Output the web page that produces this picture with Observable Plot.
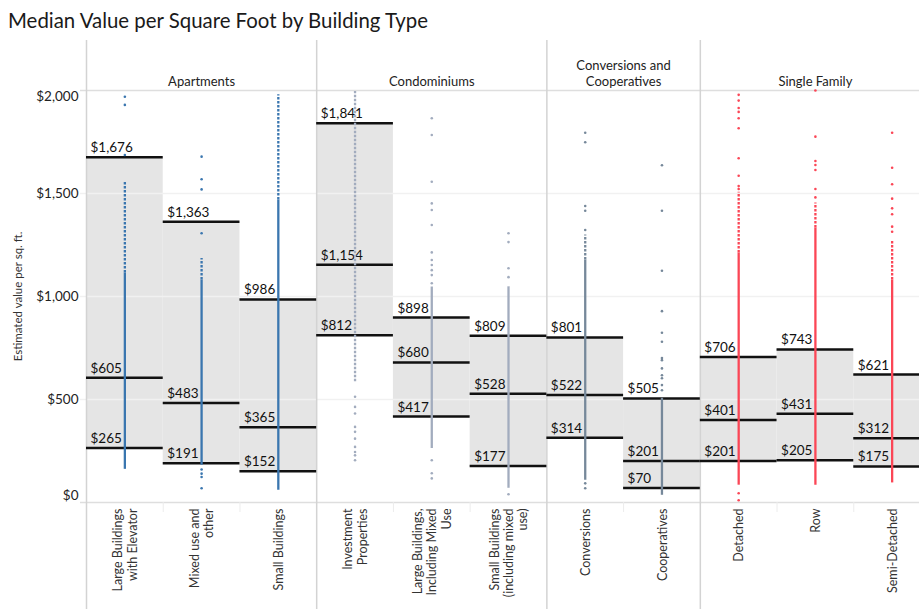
<!DOCTYPE html>
<html><head><meta charset="utf-8">
<script src="https://cdn.jsdelivr.net/npm/d3@7"></script>
<script src="https://cdn.jsdelivr.net/npm/@observablehq/plot@0.6"></script>
<style>
html,body{margin:0;padding:0;background:#fff;overflow:hidden;width:919px;height:609px}
#title{height:40px;box-sizing:border-box;padding:10px 0 0 8px;font:20.4px/20px Lato,sans-serif;color:#1a1a1a;white-space:nowrap}
#chart{width:930px}
#chart svg{display:block;overflow:visible;max-width:none !important;width:930px !important;height:569px !important}
</style></head><body>
<div id="title">Median Value per Square Foot by Building Type</div>
<div id="chart"></div>
<script>
// ---- data ----
const categories = [
  "Large Buildings\nwith Elevator", "Mixed use and\nother", "Small Buildings",
  "Investment\nProperties", "Large Buildings,\nIncluding Mixed\nUse", "Small Buildings\n(including mixed\nuse)",
  "Conversions", "Cooperatives",
  "Detached", "Row", "Semi-Detached"
];
const groups = [
  "Apartments", "Apartments", "Apartments",
  "Condominiums", "Condominiums", "Condominiums",
  "Conversions and\nCooperatives", "Conversions and\nCooperatives",
  "Single Family", "Single Family", "Single Family"
];
const groupNames = ["Apartments", "Condominiums", "Conversions and\nCooperatives", "Single Family"];
const lowValues    = [265, 191, 152, 812, 417, 177, 314, 70, 201, 205, 175];
const medianValues = [605, 483, 365, 1154, 680, 528, 522, 201, 401, 431, 312];
const highValues   = [1676, 1363, 986, 1841, 898, 809, 801, 505, 706, 743, 621];
// dense part of each strip of individual values
const solidLo = [161, 181, 59, null, 262, 69, 108, 35, 84, 84, 95];
const solidHi = [1114, 1080, 1468, null, 1046, 1047, 1177, 506, 1211, 1332, 1080];
// semi-dense (dotted) part
const dashLo = [1114, 1080, 1468, 586, null, null, 1177, null, 1211, 1332, 1080];
const dashHi = [1561, 1185, 1979, 1995, null, null, 1298, null, 1506, 1454, 1274];
// sparse individual values
const outliers = [
  [1970, 1930, 1687],
  [1679, 1569, 1520, 1307, 160, 140, 124, 69],
  [],
  [513, 464, 432, 367, 343, 310, 270, 245, 229, 205],
  [1865, 1784, 1557, 1452, 1420, 1347, 1214, 1177, 1153, 1128, 1104, 1064, 205, 142, 117],
  [1307, 1264, 1137, 1094, 40],
  [1795, 1749, 1439, 1416, 1323, 93, 69],
  [1637, 1416, 1125, 929, 824, 780, 701, 691, 651, 618, 603, 570, 545],
  [1979, 1951, 1915, 1896, 1865, 1817, 1671, 1586, 1536, 1522, 45, 11],
  [2000, 1776, 1658, 1638, 1614, 1522, 1481],
  [1795, 1625, 1545, 1475, 1428, 1399, 1339, 1314]
];
const groupColors = ["#3a76af", "#a2acbe", "#76889a", "#fb4656"];
const yTicks = [0, 500, 1000, 1500, 2000];
const yTitle = "Estimated value per sq. ft.";

// ---- derived tables ----
const fmt = d3.format("$,");
const colorOf = i => groupColors[groupNames.indexOf(groups[i])];
const rows = categories.map((c, i) => ({i, c, low: lowValues[i], med: medianValues[i], high: highValues[i],
  sLo: solidLo[i], sHi: solidHi[i], dLo: dashLo[i], dHi: dashHi[i], color: colorOf(i)}));
const lineRows = rows.flatMap(r => [r.low, r.med, r.high].map(v => ({i: r.i, v})));
const dotRows = rows.flatMap(r => outliers[r.i].map(v => ({i: r.i, v, color: r.color})));
const facets = groupNames.map(g => {
  const idx = groups.map((x, i) => x === g ? i : -1).filter(i => i >= 0);
  return {name: g, start: idx[0], count: idx.length};
});
const boundaries = facets.map(f => f.start);
const inner = categories.map((c, i) => i).filter(i => !boundaries.includes(i));

const font = "Lato, sans-serif";
const chart = Plot.plot({
  width: 930, height: 569,
  marginLeft: 86, marginRight: 0, marginTop: 50, marginBottom: 107,
  style: {fontFamily: font, color: "#222", background: "white", maxWidth: "none"},
  x: {type: "linear", domain: [0, categories.length], axis: null},
  y: {domain: [0, 2000], axis: null},
  marks: [
    Plot.rectY(rows, {x1: d => d.i, x2: d => d.i + 1, y1: "low", y2: "high", fill: "#e5e5e5"}),
    Plot.ruleY([500, 1000, 1500], {stroke: "#f1f1f1", strokeWidth: 1.5, insetLeft: -6}),
    Plot.ruleY([0, 2000], {stroke: "#dedede", strokeWidth: 1.5, insetLeft: -6}),
    Plot.ruleX(inner, {x: d => d, stroke: "#ececec", strokeWidth: 1, insetTop: 412, insetBottom: -10}),
    Plot.ruleX(boundaries, {x: d => d, stroke: "#d3d3d3", strokeWidth: 1.5, insetTop: -50, insetBottom: -107}),
    Plot.ruleY(lineRows, {y: "v", x1: d => d.i, x2: d => d.i + 1, stroke: "#111", strokeWidth: 2.5}),
    Plot.text(lineRows, {x: d => d.i, y: "v", text: d => fmt(d.v), textAnchor: "start", lineAnchor: "bottom",
      dx: 4, dy: -5, fontSize: 13.5, fill: "#111"}),
    Plot.ruleX(rows.filter(r => r.sLo != null), {x: d => d.i + 0.5, y1: "sLo", y2: "sHi", stroke: "color", strokeWidth: 2.3}),
    Plot.ruleX(rows.filter(r => r.dLo != null), {x: d => d.i + 0.5, y1: "dLo", y2: "dHi", stroke: "color", strokeWidth: 2.3, strokeDasharray: "2.5,1.5"}),
    Plot.dot(dotRows, {x: d => d.i + 0.5, y: "v", r: 1.3, fill: "color", stroke: null}),
    // y tick labels
    Plot.text(yTicks.filter(t => t > 0 && t < 2000), {y: d => d, frameAnchor: "left", dx: -8, textAnchor: "end", text: d => fmt(d), fontSize: 13.5, fill: "#222"}),
    Plot.text(yTicks.filter(t => t === 0), {y: d => d, frameAnchor: "left", dx: -8, dy: -7, textAnchor: "end", text: d => fmt(d), fontSize: 13.5, fill: "#222"}),
    Plot.text(yTicks.filter(t => t === 2000), {y: d => d, frameAnchor: "left", dx: -8, dy: 6, textAnchor: "end", text: d => fmt(d), fontSize: 13.5, fill: "#222"}),
    Plot.text([yTitle], {frameAnchor: "left", dx: -68, rotate: -90, textAnchor: "middle", text: d => d, fontSize: 11.5, fill: "#333"}),
    // category labels
    Plot.text(rows, {x: d => d.i + 0.5, frameAnchor: "bottom", dy: 6, rotate: -90, textAnchor: "end", lineAnchor: "middle",
      text: "c", fontSize: 12.5, lineHeight: 1.15, fill: "#333"}),
    // facet headers
    Plot.text(facets, {x: d => d.start + d.count / 2, frameAnchor: "top", dy: -5, lineAnchor: "bottom", text: "name",
      fontSize: 13, lineHeight: 1.2, fill: "#222"})
  ]
});
document.getElementById("chart").appendChild(chart);
</script>
</body></html>
